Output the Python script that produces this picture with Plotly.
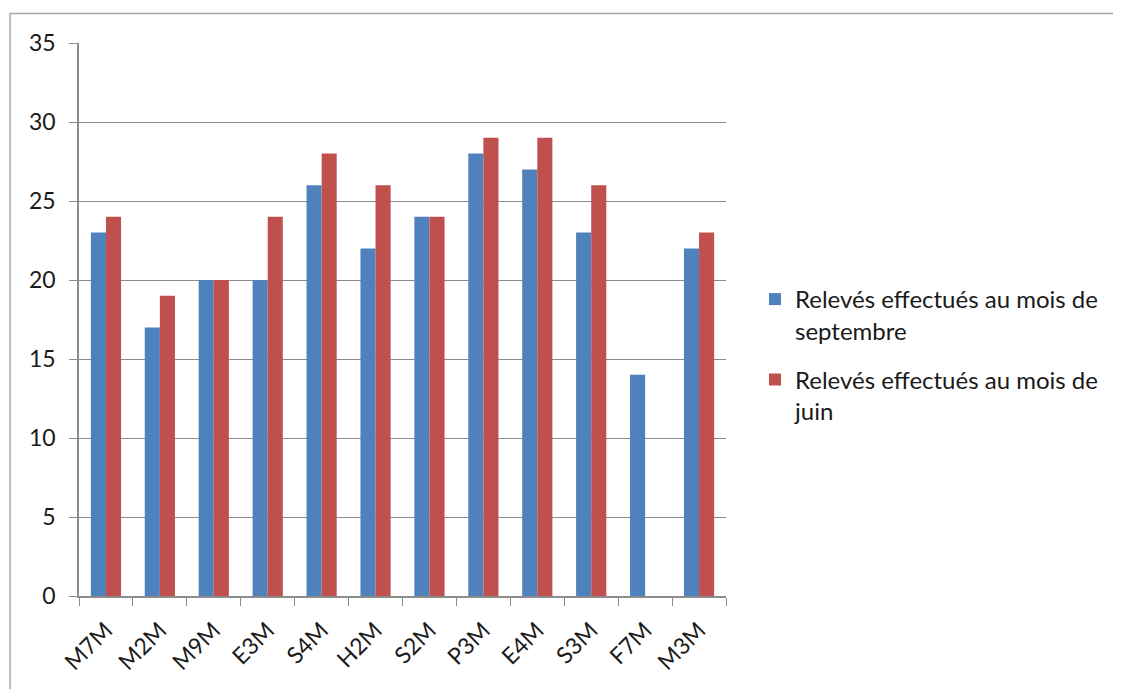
import plotly.graph_objects as go

categories = ["M7M", "M2M", "M9M", "E3M", "S4M", "H2M", "S2M", "P3M", "E4M", "S3M", "F7M", "M3M"]
septembre = [23, 17, 20, 20, 26, 22, 24, 28, 27, 23, 14, 22]
juin = [24, 19, 20, 24, 28, 26, 24, 29, 29, 26, None, 23]
y_ticks = [0, 5, 10, 15, 20, 25, 30, 35]

OFF = 8  # page offset of the plot div
W, H = 1121 - OFF, 689 - OFF
L, R, T, B = 79 - OFF, 1121 - 726, 43 - OFF, 689 - 596
pw, ph = W - L - R, H - T - B

fig = go.Figure()
fig.add_trace(go.Bar(x=categories, y=septembre, name="Relevés effectués au mois de<br>septembre",
                     legendgroup="sep", marker=dict(color="#4F81BD", line=dict(width=0))))
fig.add_trace(go.Bar(x=categories, y=juin, name="Relevés effectués au mois de<br>juin",
                     legendgroup="juin", marker=dict(color="#C0504D", line=dict(width=0))))

grid = "#8c8c8c"
fig.update_layout(
    width=W, height=H,
    margin=dict(l=L, r=R, t=T, b=B),
    paper_bgcolor="white", plot_bgcolor="white",
    barmode="group", bargap=0.44, bargroupgap=0,
    font=dict(family="Lato, 'Open Sans', sans-serif", size=23, color="#1a1a1a"),
    showlegend=True,
    legend=dict(x=(755 - 79) / pw, y=(596 - 277) / ph, xanchor="left", yanchor="top",
                font=dict(size=24, color="#1a1a1a"), itemwidth=30, tracegroupgap=15,
                bgcolor="rgba(0,0,0,0)", valign="top"),
    xaxis=dict(type="category", tickangle=-45, tickson="boundaries", ticks="outside",
               ticklen=8, tickcolor=grid, showline=True, linecolor=grid, linewidth=1.5,
               showgrid=False, tickfont=dict(size=23), ticklabelstandoff=10),
    yaxis=dict(range=[0, 35], tickvals=y_ticks, ticks="outside", ticklen=8, tickcolor=grid,
               showline=True, linecolor=grid, linewidth=1.5, showgrid=True, gridcolor=grid,
               gridwidth=1, zeroline=False, tickfont=dict(size=23), ticklabelstandoff=9),
)
fig.add_shape(type="rect", xref="paper", yref="paper",
              x0=(10 - 79) / pw, x1=(1140 - 79) / pw, y0=-(720 - 596) / ph, y1=(596 - 13.5) / ph,
              line=dict(color="#a6a6a6", width=1.5), layer="below")

fig.write_html("out.html")
